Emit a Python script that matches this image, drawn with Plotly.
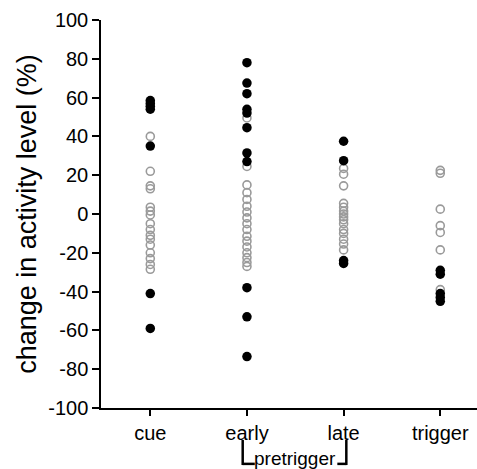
import plotly.graph_objects as go

categories = ["cue", "early", "late", "trigger"]

cue_filled = [58.5, 57, 55.5, 54, 35, -41, -59]
cue_open = [40, 22, 14.5, 13, 3.5, 1.5, -0.5, -5, -8, -11, -13, -16, -20, -23, -26, -28.5]

early_filled = [78, 67.5, 62, 54, 52, 44.5, 31.5, 27, -38, -53, -73.5]
early_open = [49.5, 24.5, 15, 11, 7.5, 4, 1, -2, -5, -8, -11.5, -14, -17, -20, -22.5, -25, -27]

late_filled = [37.5, 27.5, -24, -25.5]
late_open = [23.5, 20.5, 14.5, 5.5, 3.5, 1.5, 0, -1.5, -3, -5, -8, -10, -13, -15.5, -18.5]

trigger_filled = [-29, -31, -41, -43, -45]
trigger_open = [22.5, 21, 2.5, -6, -9.5, -18.5, -39]

y_ticks = [-100, -80, -60, -40, -20, 0, 20, 40, 60, 80, 100]
y_ticktext = ["-100", "-80", "-60", "-40", "-20", "0", "20", "40", "60", "80", "100"]

open_sets = [cue_open, early_open, late_open, trigger_open]
filled_sets = [cue_filled, early_filled, late_filled, trigger_filled]

fig = go.Figure()
for cat, vals in zip(categories, open_sets):
    fig.add_trace(go.Scatter(
        x=[cat] * len(vals), y=vals, mode="markers", cliponaxis=False,
        marker=dict(symbol="circle-open", size=8, color="#9a9a9a", line=dict(width=1.6)),
        showlegend=False))
for cat, vals in zip(categories, filled_sets):
    fig.add_trace(go.Scatter(
        x=[cat] * len(vals), y=vals, mode="markers", cliponaxis=False,
        marker=dict(symbol="circle", size=9.5, color="black", line=dict(width=0)),
        showlegend=False))

font = "Arial, Liberation Sans, sans-serif"
fig.update_layout(
    width=477, height=469,
    margin=dict(l=101, r=0, t=20, b=61, autoexpand=False),
    plot_bgcolor="white", paper_bgcolor="white",
    font=dict(family=font, color="black", size=20),
    xaxis=dict(
        type="category", categoryorder="array", categoryarray=categories,
        range=[-0.51, 3.38], showgrid=False, zeroline=False, automargin=False,
        showline=True, linecolor="black", linewidth=1.5,
        ticks="outside", ticklen=6, tickwidth=1.5, tickcolor="black",
        tickfont=dict(size=20, family=font, color="black"),
    ),
    yaxis=dict(
        range=[-100, 100], tickvals=y_ticks, ticktext=y_ticktext,
        showgrid=False, zeroline=False, automargin=False,
        showline=True, linecolor="black", linewidth=1.5,
        ticks="outside", ticklen=7, tickwidth=1.5, tickcolor="black",
        tickfont=dict(size=20, family=font, color="black"),
        title=dict(text="change in activity level (%)", font=dict(size=27, family=font, color="black"), standoff=4),
    ),
)

# pretrigger bracket under "early" and "late"
fig.add_annotation(x=1.5, xref="x", y=-0.131, yref="paper", yanchor="middle",
                   text="pretrigger", showarrow=False,
                   font=dict(size=19, family=font, color="black"))
for xv, foot in [(0.956, 0.125), (2.028, -0.093)]:
    fig.add_shape(type="line", xref="x", yref="paper", x0=xv, x1=xv, y0=-0.0825, y1=-0.147,
                  line=dict(color="black", width=2.5))
    fig.add_shape(type="line", xref="x", yref="paper", x0=xv, x1=xv + foot, y0=-0.144, y1=-0.144,
                  line=dict(color="black", width=2.5))

fig.write_html("out.html", config={"displayModeBar": False},
               post_script="document.body.style.margin='0';document.body.style.overflow='hidden';")
